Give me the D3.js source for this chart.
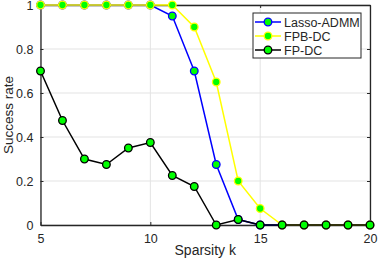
<!DOCTYPE html>
<html lang="en">
<head>
<meta charset="UTF-8">
<script src="https://d3js.org/d3.v7.min.js"></script>
<style>
    body { margin: 0; background: #fff; }
    svg { display: block; font-family: "Liberation Sans", Arial, sans-serif; }
</style>
</head>
<body>
<div id="chart"></div>
<script>
// data
var kValues = [5, 6, 7, 8, 9, 10, 11, 12, 13, 14, 15, 16, 17, 18, 19, 20];
var lassoADMM = [1, 1, 1, 1, 1, 1, 0.95, 0.7, 0.275, 0.025, 0, 0, 0, 0, 0, 0];
var fpbDC = [1, 1, 1, 1, 1, 1, 1, 0.9, 0.65, 0.2, 0.075, 0, 0, 0, 0, 0];
var fpDC = [0.7, 0.475, 0.3, 0.275, 0.35, 0.375, 0.225, 0.175, 0, 0.025, 0, 0, 0, 0, 0, 0];
var xTicks = [5, 10, 15, 20];
var yTicks = [0, 0.2, 0.4, 0.6, 0.8, 1];
var seriesNames = ["Lasso-ADMM", "FPB-DC", "FP-DC"];

var series = [
    {name: seriesNames[0], values: lassoADMM, color: "#0000ff"},
    {name: seriesNames[1], values: fpbDC, color: "#ffff00"},
    {name: seriesNames[2], values: fpDC, color: "#000000"}
];

var W = 378, H = 261;
var margin = {top: 5, right: 8, bottom: 36, left: 40.5};
var width = W - margin.left - margin.right,
    height = H - margin.top - margin.bottom;

var svg = d3.select("#chart").append("svg")
    .attr("width", W)
    .attr("height", H);

var g = svg.append("g")
    .attr("transform", "translate(" + margin.left + "," + margin.top + ")");

var x = d3.scaleLinear().domain([5, 20]).range([0, width]);
var y = d3.scaleLinear().domain([0, 1]).range([height, 0]);

// grid
g.append("g").selectAll("line.gx")
    .data(xTicks)
    .enter().append("line")
    .attr("x1", function(d) { return x(d); })
    .attr("x2", function(d) { return x(d); })
    .attr("y1", 0).attr("y2", height)
    .attr("stroke", "#e3e3e3").attr("stroke-width", 1);
g.append("g").selectAll("line.gy")
    .data(yTicks)
    .enter().append("line")
    .attr("y1", function(d) { return y(d); })
    .attr("y2", function(d) { return y(d); })
    .attr("x1", 0).attr("x2", width)
    .attr("stroke", "#e3e3e3").attr("stroke-width", 1);

// axes
var fmtY = function(d) { return d === 0 || d === 1 ? String(d) : d3.format(".1f")(d); };
var axB = g.append("g").attr("transform", "translate(0," + height + ")")
    .call(d3.axisBottom(x).tickValues(xTicks).tickSizeInner(-3).tickSizeOuter(0).tickPadding(9));
var axL = g.append("g")
    .call(d3.axisLeft(y).tickValues(yTicks).tickFormat(fmtY).tickSizeInner(-3).tickSizeOuter(0).tickPadding(7));
var axT = g.append("g")
    .call(d3.axisTop(x).tickValues(xTicks).tickSizeInner(-3).tickSizeOuter(0).tickFormat(""));
var axR = g.append("g").attr("transform", "translate(" + width + ",0)")
    .call(d3.axisRight(y).tickValues(yTicks).tickSizeInner(-3).tickSizeOuter(0).tickFormat(""));

[axB, axL, axT, axR].forEach(function(a) {
    a.select(".domain").attr("stroke", "#262626").attr("stroke-width", 1.3);
    a.selectAll(".tick line").attr("stroke", "#262626");
    a.selectAll(".tick text").attr("fill", "#262626").style("font-size", "12.5px")
        .style("font-family", "'Liberation Sans', Arial, sans-serif");
});

// lines and markers
var line = d3.line()
    .x(function(d, i) { return x(kValues[i]); })
    .y(function(d) { return y(d); });

series.forEach(function(s) {
    g.append("path")
        .datum(s.values)
        .attr("d", line)
        .attr("fill", "none")
        .attr("stroke", s.color)
        .attr("stroke-width", 1.5);
    g.selectAll("circle.m" + s.name)
        .data(s.values)
        .enter().append("circle")
        .attr("cx", function(d, i) { return x(kValues[i]); })
        .attr("cy", function(d) { return y(d); })
        .attr("r", 3.8)
        .attr("fill", "#00ff00")
        .attr("stroke", s.color)
        .attr("stroke-width", 1.3);
});

// axis labels
svg.append("text")
    .attr("x", margin.left + width / 2)
    .attr("y", 255)
    .attr("text-anchor", "middle")
    .attr("fill", "#262626")
    .style("font-size", "14px")
    .text("Sparsity k");

svg.append("text")
    .attr("transform", "translate(12.5," + (margin.top + height / 2) + ") rotate(-90)")
    .attr("text-anchor", "middle")
    .attr("fill", "#262626")
    .style("font-size", "13.5px")
    .text("Success rate");

// legend
var lg = svg.append("g").attr("transform", "translate(253,13)");
lg.append("rect")
    .attr("width", 108).attr("height", 45)
    .attr("fill", "#fff").attr("stroke", "#262626").attr("stroke-width", 1);
series.forEach(function(s, i) {
    var yy = 9 + i * 14;
    lg.append("line")
        .attr("x1", 2).attr("x2", 28).attr("y1", yy).attr("y2", yy)
        .attr("stroke", s.color).attr("stroke-width", 1.5);
    lg.append("circle")
        .attr("cx", 15).attr("cy", yy).attr("r", 3.8)
        .attr("fill", "#00ff00").attr("stroke", s.color).attr("stroke-width", 1.3);
    lg.append("text")
        .attr("x", 31).attr("y", yy + 4.5)
        .attr("fill", "#262626")
        .style("font-size", "12.5px")
        .text(s.name);
});
</script>
</body>
</html>
